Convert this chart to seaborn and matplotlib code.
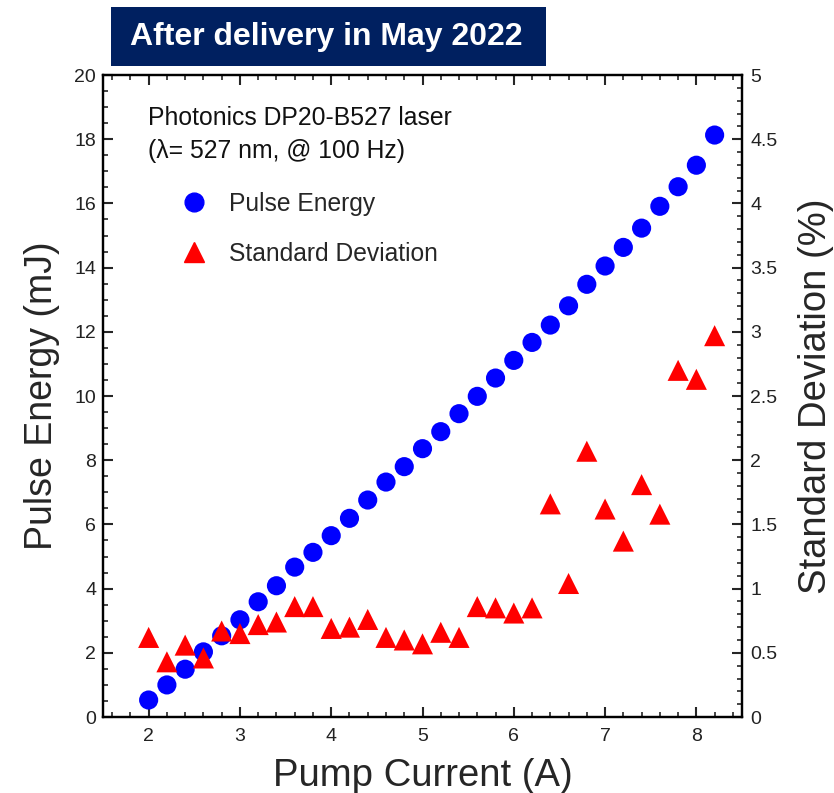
import numpy as np
import pandas as pd
import matplotlib
matplotlib.use("Agg")
import matplotlib.pyplot as plt
import seaborn as sns
from matplotlib.lines import Line2D
from matplotlib.patches import Rectangle
from matplotlib.ticker import MultipleLocator, FuncFormatter

# ---- data ----
current = [2.0, 2.2, 2.4, 2.6, 2.8, 3.0, 3.2, 3.4, 3.6, 3.8, 4.0, 4.2, 4.4, 4.6, 4.8, 5.0,
           5.2, 5.4, 5.6, 5.8, 6.0, 6.2, 6.4, 6.6, 6.8, 7.0, 7.2, 7.4, 7.6, 7.8, 8.0, 8.2]
pulse_energy = [0.53, 1.00, 1.49, 2.03, 2.53, 3.03, 3.59, 4.09, 4.67, 5.13, 5.65, 6.19,
                6.76, 7.32, 7.80, 8.36, 8.89, 9.45, 9.99, 10.56, 11.11, 11.67, 12.21, 12.81,
                13.48, 14.05, 14.63, 15.23, 15.91, 16.52, 17.19, 18.13]
std_dev = [0.62, 0.43, 0.56, 0.46, 0.67, 0.65, 0.72, 0.74, 0.86, 0.86, 0.69, 0.70,
           0.76, 0.62, 0.60, 0.57, 0.66, 0.62, 0.86, 0.85, 0.81, 0.85, 1.66, 1.04,
           2.07, 1.62, 1.37, 1.81, 1.58, 2.70, 2.63, 2.97]

title_text = "After delivery in May 2022"
note_text = "Photonics DP20-B527 laser\n(\u03bb= 527 nm, @ 100 Hz)"
series_names = ["Pulse Energy", "Standard Deviation"]

df = pd.DataFrame({"current": current, "energy": pulse_energy, "std": std_dev})

sns.set_theme(style="ticks")
plt.rcParams['font.family'] = ['Liberation Sans', 'DejaVu Sans']

fig = plt.figure(figsize=(8.34, 7.93), dpi=100)
ax = fig.add_axes([0.1235, 0.0958, 0.7662, 0.8096])
ax2 = ax.twinx()

sns.scatterplot(data=df, x="current", y="energy", ax=ax, color="#0000FF", marker="o",
                s=190, edgecolor="none", zorder=3, legend=False)
sns.scatterplot(data=df, x="current", y="std", ax=ax2, color="#FF0000", marker="^",
                s=230, edgecolor="none", zorder=3, legend=False)

ax.set_xlim(1.5, 8.5)
ax.set_ylim(0, 20)
ax2.set_ylim(0, 5)

ax.xaxis.set_major_locator(MultipleLocator(1))
ax.xaxis.set_minor_locator(MultipleLocator(0.2))
ax.yaxis.set_major_locator(MultipleLocator(2))
ax.yaxis.set_minor_locator(MultipleLocator(0.5))
ax2.yaxis.set_major_locator(MultipleLocator(0.5))
ax2.yaxis.set_minor_locator(MultipleLocator(0.1))
ax2.yaxis.set_major_formatter(FuncFormatter(lambda v, p: "%g" % round(v, 2)))

tick_color = "#222222"
ax.tick_params(axis="x", which="major", pad=8)
ax.tick_params(axis="y", which="major", pad=5)
ax.tick_params(axis="both", which="major", direction="in", length=7, width=1.5,
               labelsize=14, labelcolor=tick_color, top=True)
ax.tick_params(axis="both", which="minor", direction="in", length=3.5, width=1.2, top=True)
ax.tick_params(axis="y", which="both", right=False)
ax2.tick_params(axis="y", which="major", direction="in", length=7, width=1.5,
                labelsize=14, labelcolor=tick_color, pad=6)
ax2.tick_params(axis="y", which="minor", direction="in", length=3.5, width=1.2)

for a in (ax, ax2):
    for sp in a.spines.values():
        sp.set_visible(True)
        sp.set_linewidth(1.6)
        sp.set_color("black")

ax.set_xlabel("Pump Current (A)", fontsize=27.5, labelpad=9)
ax.set_ylabel("Pulse Energy (mJ)", fontsize=27, labelpad=10)
ax2.set_ylabel("Standard Deviation (%)", fontsize=27.5, labelpad=15)

ax.text(0.070, 0.952, note_text, transform=ax.transAxes, fontsize=17.8, va="top",
        ha="left", color="#111111", linespacing=1.5)

handles = [Line2D([], [], linestyle="none", marker="o", color="#0000FF", markersize=13.5),
           Line2D([], [], linestyle="none", marker="^", color="#FF0000", markersize=14)]
ax.legend(handles, series_names, loc="upper left", bbox_to_anchor=(0.108, 0.833),
          frameon=False, fontsize=17.7, handlelength=1.0, handletextpad=0.9,
          labelspacing=1.05, borderaxespad=0)

fig.patches.append(Rectangle((111 / 834, 1 - 66 / 793), 435 / 834, 59 / 793,
                             transform=fig.transFigure, facecolor="#002060",
                             edgecolor="none", zorder=5))
fig.text(326 / 834, 1 - 37 / 793, title_text, fontsize=23, fontweight="bold",
         color="white", ha="center", va="center", zorder=6)

fig.savefig("out.png", dpi=100)
